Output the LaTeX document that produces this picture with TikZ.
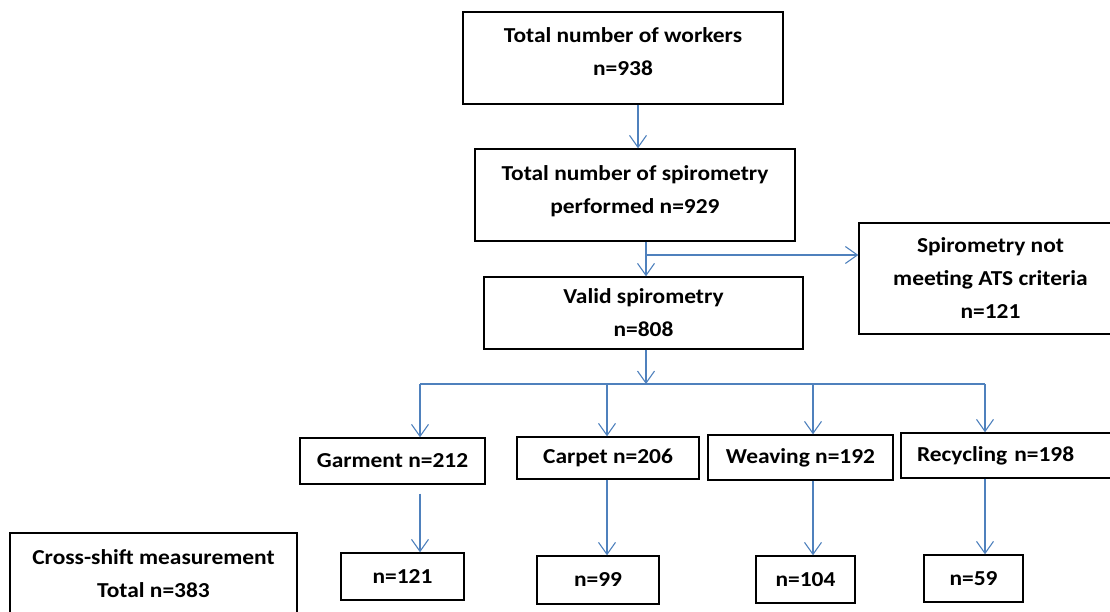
\documentclass[tikz,border=0pt]{standalone}
\usepackage{fontspec}
\setmainfont{Carlito}[FakeStretch=1.1]
\usetikzlibrary{arrows.meta, positioning}
\definecolor{linkblue}{RGB}{79,129,189}
\tikzstyle{stage} = [rectangle, draw=black, line width=1.4pt, align=center,
    inner sep=0pt, font=\bfseries\fontsize{21.3}{33}\selectfont]
\tikzstyle{link}  = [line width=1.1pt, draw=linkblue]
\tikzstyle{arrow} = [link, -{Straight Barb[length=12pt, width=17pt, line width=1.1pt]}]

\begin{document}
\begin{tikzpicture}[x=1pt, y=-1pt]
    \clip (0,0) rectangle (1110,612);
    \node (workers)   [stage, minimum width=320pt, minimum height=92pt]  at (623,58)      {Total number of workers\\n=938\\[-21pt]};
    \node (spiro)     [stage, minimum width=320pt, minimum height=92pt]  at (635,195)     {Total number of spirometry\\performed n=929\\[-22pt]};
    \node (valid)     [stage, minimum width=319pt, minimum height=72pt]  at (643.5,313)   {Valid spirometry\\n=808};
    \node (notmet)    [stage, minimum width=263pt, minimum height=111pt] at (990.5,278.5) {Spirometry not\\meeting ATS criteria\\n=121};
    \node (garment)   [stage, minimum width=185pt, minimum height=46pt]  at (392.5,461)   {Garment n=212};
    \node (carpet)    [stage, minimum width=182pt, minimum height=42pt]  at (608,458)     {Carpet n=206};
    \node (weaving)   [stage, minimum width=185pt, minimum height=45pt]  at (800.5,457.5) {Weaving n=192};
    \node (recycling) [stage, minimum width=224pt, minimum height=45pt, text width=192pt, align=left] at (1013,455.5) {Recycling n=198};
    \node (cross)     [stage, minimum width=287pt, minimum height=82pt]  at (153.5,574)   {Cross-shift measurement\\Total n=383};
    \node (garmentn)  [stage, minimum width=123pt, minimum height=47pt]  at (402.5,576.5) {n=121};
    \node (carpetn)   [stage, minimum width=122pt, minimum height=48pt]  at (598,580)     {n=99};
    \node (weavingn)  [stage, minimum width=99pt,  minimum height=47pt]  at (805.5,579.5) {n=104};
    \node (recyclingn)[stage, minimum width=99pt,  minimum height=47pt]  at (973.5,578.5) {n=59};

    \coordinate (top)   at (638,0);
    \coordinate (split) at (646,255);
    \coordinate (hub)   at (646,384);
    \draw [arrow] (workers.south -| top) -- (spiro.north -| top);
    \draw [arrow] (spiro.south -| split) -- (valid.north -| split);
    \draw [arrow] (split) -- (split -| notmet.west);
    \draw [arrow] (valid.south -| hub) -- (hub);

    \foreach \x/\n in {420/garment, 607/carpet, 813/weaving, 985/recycling}
        \coordinate (d\n) at (\x,384);
    \draw [link] (dgarment) -- (drecycling);
    \foreach \n in {garment, carpet, weaving, recycling}
        \draw [arrow] (d\n) -- (d\n |- \n.north);

    \draw [arrow, shorten <=9pt] (dgarment |- garment.south) -- (dgarment |- garmentn.north);
    \draw [arrow] (dcarpet |- carpet.south)       -- (dcarpet |- carpetn.north);
    \draw [arrow] (dweaving |- weaving.south)     -- (dweaving |- weavingn.north);
    \draw [arrow] (drecycling |- recycling.south) -- (drecycling |- recyclingn.north);
\end{tikzpicture}
\end{document}
